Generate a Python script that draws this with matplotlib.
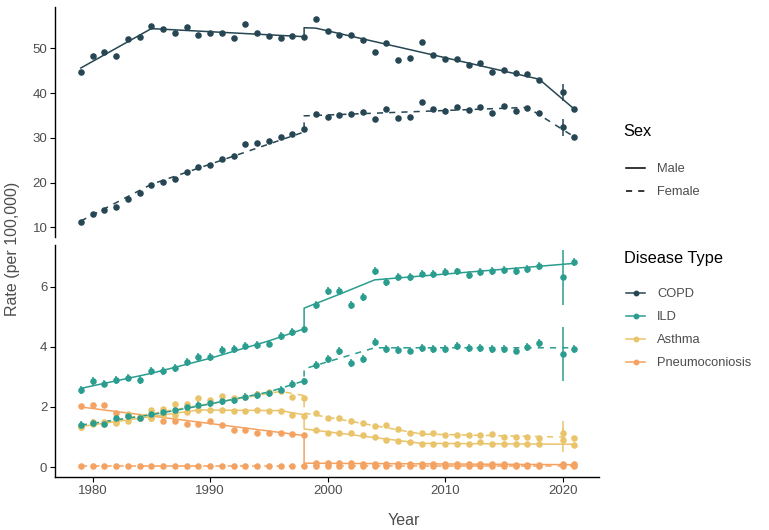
import numpy as np
import matplotlib
matplotlib.use("Agg")
import matplotlib.pyplot as plt
from matplotlib.lines import Line2D

plt.rcParams["font.family"] = ["Liberation Sans", "DejaVu Sans"]

# years with data (2019 is missing)
years = list(range(1979, 2019)) + [2020, 2021]

copd_male = [44.6, 48.3, 49.2, 48.3, 52.0, 52.5, 55.0, 54.4, 53.4, 54.8, 53.0, 53.5, 53.5, 52.4,
             55.4, 53.5, 52.8, 52.3, 52.7, 52.5, 56.5, 53.9, 53.0, 52.9, 51.8, 49.1, 51.1, 47.4,
             47.8, 51.3, 48.6, 47.5, 47.7, 46.3, 46.7, 44.7, 45.2, 44.5, 44.3, 42.9, 40.2, 36.4]
copd_female = [11.2, 13.0, 13.9, 14.6, 16.3, 17.6, 19.4, 20.2, 20.9, 22.4, 23.5, 24.0, 25.3, 25.9,
               28.7, 28.9, 29.2, 30.2, 30.9, 32.0, 35.3, 34.6, 35.2, 35.3, 35.8, 34.3, 36.5, 34.5,
               34.7, 38.0, 36.5, 36.1, 36.9, 36.2, 36.9, 35.6, 37.0, 36.0, 36.7, 35.5, 32.4, 30.2]
ild_male = [2.56, 2.87, 2.78, 2.89, 2.98, 2.91, 3.20, 3.20, 3.31, 3.51, 3.67, 3.67, 3.89, 3.94,
            4.02, 4.07, 4.11, 4.36, 4.50, 4.58, 5.40, 5.85, 5.87, 5.40, 5.65, 6.53, 6.17, 6.33,
            6.33, 6.44, 6.42, 6.48, 6.51, 6.39, 6.48, 6.53, 6.56, 6.52, 6.59, 6.69, 6.31, 6.82]
ild_female = [1.41, 1.48, 1.45, 1.65, 1.71, 1.65, 1.77, 1.82, 1.90, 1.99, 2.08, 2.13, 2.19, 2.23,
              2.32, 2.41, 2.45, 2.58, 2.77, 2.85, 3.39, 3.60, 3.85, 3.47, 3.59, 4.15, 3.93, 3.91,
              3.88, 3.97, 3.93, 3.93, 4.04, 3.97, 3.95, 3.93, 3.93, 3.88, 4.01, 4.12, 3.77, 3.94]
asthma_male = [1.32, 1.45, 1.42, 1.48, 1.54, 1.62, 1.65, 1.74, 1.74, 1.82, 1.90, 1.90, 1.90, 1.88,
               1.88, 1.90, 1.88, 1.88, 1.74, 1.71, 1.23, 1.15, 1.13, 1.12, 1.07, 0.99, 0.90, 0.88,
               0.83, 0.77, 0.78, 0.78, 0.78, 0.78, 0.82, 0.78, 0.78, 0.77, 0.77, 0.77, 0.90, 0.75]
asthma_female = [1.34, 1.49, 1.49, 1.52, 1.77, 1.68, 1.90, 1.93, 2.10, 2.10, 2.30, 2.23, 2.35, 2.30,
                 2.34, 2.43, 2.49, 2.52, 2.34, 2.30, 1.79, 1.63, 1.62, 1.54, 1.47, 1.37, 1.41, 1.27,
                 1.15, 1.12, 1.12, 1.08, 1.07, 1.07, 1.08, 1.10, 0.99, 1.01, 1.01, 0.97, 1.15, 0.97]
pneumo_male = [2.03, 2.05, 2.05, 1.79, 1.69, 1.65, 1.65, 1.54, 1.52, 1.43, 1.43, 1.52, 1.40, 1.25,
               1.23, 1.15, 1.15, 1.13, 1.10, 1.08, 0.13, 0.13, 0.12, 0.12, 0.11, 0.11, 0.10, 0.10,
               0.10, 0.10, 0.09, 0.09, 0.09, 0.09, 0.09, 0.09, 0.09, 0.08, 0.08, 0.08, 0.09, 0.09]
pneumo_female = [0.02, 0.02, 0.02, 0.02, 0.02, 0.02, 0.02, 0.02, 0.02, 0.02, 0.02, 0.02, 0.02, 0.02,
                 0.02, 0.02, 0.02, 0.02, 0.02, 0.02, 0.05, 0.05, 0.04, 0.05, 0.04, 0.04, 0.04, 0.04,
                 0.04, 0.04, 0.04, 0.04, 0.04, 0.04, 0.04, 0.04, 0.04, 0.04, 0.04, 0.04, 0.05, 0.05]

# half-width of the error bars: usual value, and the wider one in 2020
err_usual = {"COPD": 0.45, "ILD": 0.13, "Asthma": 0.05, "Pneumoconiosis": 0.04}
err_2020 = {"COPD": 1.9, "ILD": 0.9, "Asthma": 0.4, "Pneumoconiosis": 0.08}

# fitted (joinpoint) lines: knots
copd_m_fit = ([1979, 1985, 1998, 1998, 1999, 2018, 2021], [45.6, 54.4, 52.6, 54.6, 54.5, 43.1, 36.4])
copd_f_fit = ([1979, 1985, 1998, 1998, 2017, 2021], [11.4, 19.6, 31.3, 34.9, 36.8, 30.2])
ild_m_fit = ([1979, 1985, 1990, 1995, 1998, 1998, 2001, 2004, 2021],
             [2.62, 3.12, 3.62, 4.2, 4.6, 5.29, 5.75, 6.23, 6.78])
ild_f_fit = ([1979, 1985, 1990, 1995, 1998, 1998, 2001, 2004, 2021],
             [1.40, 1.74, 2.10, 2.50, 2.87, 3.27, 3.62, 3.97, 3.97])
asthma_m_fit = ([1979, 1989, 1996, 1998, 1998, 2008, 2021], [1.35, 1.90, 1.88, 1.74, 1.27, 0.79, 0.76])
asthma_f_fit = ([1979, 1996, 1998, 1998, 2008, 2021], [1.37, 2.52, 2.38, 1.80, 1.10, 0.99])
pneumo_m_fit = ([1979, 1998, 1998, 2021], [2.00, 1.05, 0.13, 0.08])
pneumo_f_fit = ([1979, 1998, 1998, 2021], [0.02, 0.02, 0.04, 0.04])

colors = {"COPD": "#264653", "ILD": "#2A9D8F", "Asthma": "#E9C46A", "Pneumoconiosis": "#F4A261"}
dash = (0, (4, 4))

fig = plt.figure(figsize=(7.69, 5.30), dpi=100)
ax_top = fig.add_axes([0.0715, 0.5534, 0.7075, 0.4340])
ax_bot = fig.add_axes([0.0715, 0.0994, 0.7075, 0.4383])


def draw(ax, name, values, fit, style):
    c = colors[name]
    yrs = np.array(years)
    err = np.where(yrs == 2020, err_2020[name], err_usual[name])
    ax.plot(fit[0], fit[1], color=c, lw=1.1, linestyle=style, zorder=2)
    ax.errorbar(years, values, yerr=err, fmt="o", color=c, ms=3.7, elinewidth=1.1,
                capsize=0, zorder=3)


draw(ax_top, "COPD", copd_male, copd_m_fit, "-")
draw(ax_top, "COPD", copd_female, copd_f_fit, dash)
draw(ax_bot, "Pneumoconiosis", pneumo_male, pneumo_m_fit, "-")
draw(ax_bot, "Pneumoconiosis", pneumo_female, pneumo_f_fit, dash)
draw(ax_bot, "Asthma", asthma_male, asthma_m_fit, "-")
draw(ax_bot, "Asthma", asthma_female, asthma_f_fit, dash)
draw(ax_bot, "ILD", ild_male, ild_m_fit, "-")
draw(ax_bot, "ILD", ild_female, ild_f_fit, dash)

for ax in (ax_top, ax_bot):
    ax.set_xlim(1976.8, 2023.1)
    for s in ("top", "right"):
        ax.spines[s].set_visible(False)
    ax.spines["left"].set_linewidth(1.0)
    ax.spines["bottom"].set_linewidth(1.0)
    ax.tick_params(labelsize=9.5, labelcolor="#4D4D4D", length=3.5, width=0.8, pad=2)

ax_top.set_ylim(7.9, 59.3)
ax_top.set_yticks([10, 20, 30, 40, 50])
ax_top.spines["bottom"].set_visible(False)
ax_top.tick_params(axis="x", bottom=False, labelbottom=False)

ax_bot.set_ylim(-0.34, 7.39)
ax_bot.set_yticks([0, 2, 4, 6])
ax_bot.set_xticks([1980, 1990, 2000, 2010, 2020])

fig.text(0.5245, 0.003, "Year", ha="center", va="bottom", fontsize=11.5, color="#4D4D4D")
fig.text(0.016, 0.53, "Rate (per 100,000)", rotation=90, ha="center", va="center",
         fontsize=11.5, color="#4D4D4D")

# legends
fig.text(0.811, 1 - 132 / 530, "Sex", ha="left", va="center", fontsize=11.8, color="black")
sex_handles = [Line2D([], [], color="black", lw=1.1, linestyle="-"),
               Line2D([], [], color="black", lw=1.1, linestyle=dash)]
leg1 = fig.legend(sex_handles, ["Male", "Female"], loc="upper left",
                  bbox_to_anchor=(0.814, 1 - 163 / 530), frameon=False, fontsize=9.3,
                  handlelength=1.5, handletextpad=0.9, labelspacing=0.85, borderpad=0,
                  borderaxespad=0, labelcolor="#4D4D4D")

fig.text(0.811, 1 - 258 / 530, "Disease Type", ha="left", va="center", fontsize=11.8, color="black")
disease_names = ["COPD", "ILD", "Asthma", "Pneumoconiosis"]
dis_handles = [Line2D([], [], color=colors[n], lw=1.1, marker="o", ms=3.2) for n in disease_names]
leg2 = fig.legend(dis_handles, disease_names, loc="upper left",
                  bbox_to_anchor=(0.814, 1 - 288 / 530), frameon=False, fontsize=9.3,
                  handlelength=1.5, handletextpad=0.9, labelspacing=0.85, borderpad=0,
                  borderaxespad=0, labelcolor="#4D4D4D")

fig.savefig("out.png", dpi=100)
